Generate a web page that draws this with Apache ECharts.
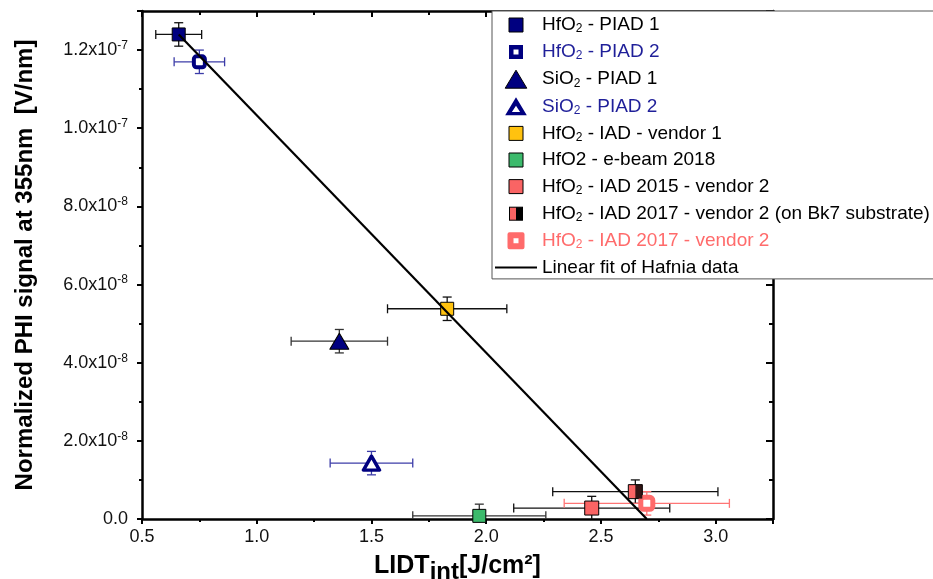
<!DOCTYPE html>
<html><head><meta charset="utf-8">
<script src="https://cdn.jsdelivr.net/npm/echarts@6/dist/echarts.min.js"></script>
<style>html,body{margin:0;padding:0;background:#fff}#c{width:933px;height:579px}</style>
</head><body><div id="c"></div>
<script>
// ---- data ----
const seriesNames = [
  'HfO_2 - PIAD 1',
  'HfO_2 - PIAD 2',
  'SiO_2 - PIAD 1',
  'SiO_2 - PIAD 2',
  'HfO_2 - IAD - vendor 1',
  'HfO2 - e-beam 2018',
  'HfO_2 - IAD 2015 - vendor 2',
  'HfO_2 - IAD 2017 - vendor 2 (on Bk7 substrate)',
  'HfO_2 - IAD 2017 - vendor 2'
];
const fitName = 'Linear fit of Hafnia data';
const xValues = [0.66, 0.75, 1.36, 1.50, 1.83, 1.97, 2.46, 2.65, 2.70];
const yValues = [1.24e-7, 1.17e-7, 4.55e-8, 1.43e-8, 5.38e-8, 0.8e-9, 2.8e-9, 7.0e-9, 4.0e-9];
const xErrors = [0.10, 0.11, 0.21, 0.18, 0.26, 0.29, 0.34, 0.36, 0.36];
const yErrors = [3e-9, 3e-9, 3e-9, 3e-9, 3e-9, 3e-9, 3e-9, 3e-9, 3e-9];
const fitX = [0.66, 2.70];
const fitY = [1.24e-7, 0];

// ---- styles ----
const FONT = "'Liberation Sans', Arial, sans-serif";
const navy = '#000080';
const salmon = '#fa6464';
const pink = '#ff6b6b';
const styles = [
  {symbol: 'rect', size: 13, color: navy, border: '#000', bw: 1, err: '#111', text: '#000'},
  {symbol: 'roundRect', size: 11, color: '#fff', border: navy, bw: 4, err: '#3c3ca8', text: '#1f1f99'},
  {symbol: 'triangle', size: [19, 16], color: navy, border: '#000', bw: 1, err: '#333', text: '#000'},
  {symbol: 'triangle', size: [16, 14], color: '#fff', border: navy, bw: 3.5, err: '#3c3ca8', text: '#1f1f99'},
  {symbol: 'rect', size: 13, color: '#ffc20f', border: '#000', bw: 1, err: '#111', text: '#000'},
  {symbol: 'rect', size: 13, color: '#3cba6c', border: '#000', bw: 1, err: '#333', text: '#000'},
  {symbol: 'rect', size: 14, color: salmon, border: '#000', bw: 1, err: '#111', text: '#000'},
  {symbol: 'rect', size: 14, color: salmon, border: '#000', bw: 1, err: '#111', text: '#000'},
  {symbol: 'roundRect', size: 12, color: '#fff', border: pink, bw: 5, err: '#ff7575', text: pink}
];
const pad = 'M-2,-2M16,16';
const sq = 'path://' + pad + 'M0,0h14v14h-14z';
const bk7Svg = '<svg xmlns="http://www.w3.org/2000/svg" width="18" height="18"><rect x="2.5" y="2.5" width="6.5" height="13" fill="' + salmon + '"/><rect x="9" y="2.5" width="6.5" height="13" fill="#000"/><rect x="2.5" y="2.5" width="13" height="13" fill="none" stroke="#000" stroke-width="1"/></svg>';
const legendIcons = [
  {icon: sq, itemStyle: {color: navy, borderColor: '#000', borderWidth: 1}},
  {icon: 'path://' + pad + 'M0,0h14v14h-14z M4.5,4.5v5h5v-5z', itemStyle: {color: navy, borderWidth: 0}},
  {icon: 'path://M9,0L18,15H0Z', itemStyle: {color: navy, borderColor: '#000', borderWidth: 1}},
  {icon: 'path://M9,0L18,15H0Z M9,7L5.6,12.2H12.4Z', itemStyle: {color: navy, borderWidth: 0}},
  {icon: sq, itemStyle: {color: '#ffc20f', borderColor: '#000', borderWidth: 1}},
  {icon: sq, itemStyle: {color: '#3cba6c', borderColor: '#000', borderWidth: 1}},
  {icon: sq, itemStyle: {color: salmon, borderColor: '#000', borderWidth: 1}},
  {icon: 'image://data:image/svg+xml;charset=utf-8,' + encodeURIComponent(bk7Svg), itemStyle: {}},
  {icon: 'path://M-0.5,-0.5M17.5,17.5M2,0h13a2,2 0 0 1 2,2v13a2,2 0 0 1 -2,2h-13a2,2 0 0 1 -2,-2v-13a2,2 0 0 1 2,-2z M6,6v5h5v-5z', itemStyle: {color: pink, borderWidth: 0}}
];

function legendFmt(name) {
  const p = name.split('_2');
  if (p.length === 1) return '{t|' + name + '}';
  return '{t|' + p[0] + '}{s|2}{t|' + p[1] + '}';
}

const series = [];
// error bars
const errData = xValues.map((x, i) => [x, yValues[i], xErrors[i], yErrors[i], i]);
series.push({
  type: 'custom', name: 'errors', clip: true, z: 2, silent: true,
  encode: {x: 0, y: 1},
  data: errData,
  renderItem: function (params, api) {
    const x = api.value(0), y = api.value(1), xe = api.value(2), ye = api.value(3), k = api.value(4);
    const l = api.coord([x - xe, y]), r = api.coord([x + xe, y]);
    const t = api.coord([x, y + ye]), b = api.coord([x, y - ye]);
    const st = {stroke: styles[k].err, lineWidth: 1.3};
    const cap = 4.5;
    const ln = (x1, y1, x2, y2) => ({type: 'line', shape: {x1, y1, x2, y2}, style: st});
    return {type: 'group', children: [
      ln(l[0], l[1], r[0], r[1]),
      ln(l[0], l[1] - cap, l[0], l[1] + cap),
      ln(r[0], r[1] - cap, r[0], r[1] + cap),
      ln(t[0], t[1], b[0], b[1]),
      ln(t[0] - cap, t[1], t[0] + cap, t[1]),
      ln(b[0] - cap, b[1], b[0] + cap, b[1])
    ]};
  }
});
seriesNames.forEach((name, i) => {
  const s = styles[i];
  series.push({
    type: 'scatter', name: name, z: 3,
    symbol: s.symbol, symbolSize: s.size,
    itemStyle: {color: s.color, borderColor: s.border, borderWidth: s.bw, borderJoin: 'round', opacity: 1},
    data: [[xValues[i], yValues[i]]]
  });
});
// black right half of the Bk7 marker
series.push({
  type: 'scatter', name: 'bk7-half', z: 4,
  symbol: 'rect', symbolSize: [7, 14], symbolOffset: [3.5, 0],
  itemStyle: {color: '#000'},
  data: [[xValues[7], yValues[7]]]
});
series.push({
  type: 'line', name: fitName, z: 5, symbol: 'none', showSymbol: false,
  itemStyle: {color: '#000'},
  lineStyle: {color: '#000', width: 2.2},
  data: fitX.map((x, i) => [x, fitY[i]])
});

const legendData = seriesNames.map((n, i) => Object.assign({name: n, textStyle: {color: styles[i].text}}, legendIcons[i]));
legendData.push({name: fitName, textStyle: {color: '#000'},
  icon: 'path://M0,-8M42,10M0,0h42v2h-42z', itemStyle: {color: '#000', borderWidth: 0}});

function yFmt(v) {
  if (v === 0) return '{m|0.0}';
  const e = Math.floor(Math.log10(v) + 1e-9);
  const m = (v / Math.pow(10, e)).toFixed(1);
  return '{m|' + m + 'x10}{e|' + e + '}';
}

const axisLine = {show: true, onZero: false, lineStyle: {color: '#000', width: 2.5}};
const option = {
  animation: false,
  backgroundColor: '#fff',
  textStyle: {fontFamily: FONT},
  grid: {left: 142, right: 160, top: 11, bottom: 60, outerBoundsMode: 'none', containLabel: false},
  legend: {
    left: 492, top: 11, orient: 'vertical',
    padding: [4, 6, 2, 3],
    itemWidth: 42, itemHeight: 18, itemGap: 7.1,
    backgroundColor: '#fff', borderColor: '#555', borderWidth: 1,
    selectedMode: false, z: 10,
    formatter: legendFmt,
    textStyle: {
      fontFamily: FONT, fontSize: 19,
      rich: {
        t: {fontSize: 19, lineHeight: 20, fontFamily: FONT},
        s: {fontSize: 12, lineHeight: 10, padding: [8, 0, 0, 0], fontFamily: FONT}
      }
    },
    data: legendData
  },
  xAxis: [{
    type: 'value', position: 'bottom', min: 0.5, max: 3.25, interval: 0.5,
    axisLine: axisLine,
    axisTick: {show: true, inside: false, length: 5, lineStyle: {width: 2, color: '#000'}},
    minorTick: {show: true, splitNumber: 2, length: 3, lineStyle: {width: 2, color: '#000'}},
    splitLine: {show: false},
    axisLabel: {showMaxLabel: false, margin: 9, fontSize: 18, color: '#111', fontFamily: FONT,
      formatter: v => v.toFixed(1)},
    name: '{b|LIDT}{s|int}{b|[J/cm²]}', nameLocation: 'middle', nameGap: 33, nameMoveOverlap: false,
    nameTextStyle: {
      rich: {
        b: {fontSize: 25, fontWeight: 'bold', lineHeight: 28, fontFamily: FONT, color: '#000'},
        s: {fontSize: 24, fontWeight: 'bold', lineHeight: 24, padding: [12, 0, 0, 0], fontFamily: FONT, color: '#000'}
      }
    }
  }, {
    type: 'value', position: 'top', min: 0.5, max: 3.25, interval: 0.5,
    axisLine: axisLine,
    axisTick: {show: true, inside: true, length: 6, lineStyle: {width: 2, color: '#000'}},
    minorTick: {show: true, splitNumber: 2, length: 4, lineStyle: {width: 2, color: '#000'}},
    splitLine: {show: false}, axisLabel: {show: false}
  }],
  yAxis: [{
    type: 'value', position: 'left', min: 0, max: 1.3e-7, interval: 2e-8,
    axisLine: axisLine,
    axisTick: {show: true, inside: false, length: 5, lineStyle: {width: 2, color: '#000'}},
    minorTick: {show: true, splitNumber: 2, length: 3, lineStyle: {width: 2, color: '#000'}},
    splitLine: {show: false},
    axisLabel: {showMaxLabel: false, margin: 14, formatter: yFmt,
      rich: {
        m: {fontSize: 18, color: '#111', fontFamily: FONT},
        e: {fontSize: 12, color: '#111', padding: [0, 0, 9, 0], fontFamily: FONT}
      }
    },
    name: 'Normalized PHI signal at 355nm  [V/nm]', nameLocation: 'middle', nameGap: 105,
    nameTextStyle: {fontSize: 24, fontWeight: 'bold', color: '#000', fontFamily: FONT}
  }, {
    type: 'value', position: 'right', min: 0, max: 1.3e-7, interval: 2e-8,
    axisLine: axisLine,
    axisTick: {show: true, inside: true, length: 7, lineStyle: {width: 2, color: '#000'}},
    minorTick: {show: true, splitNumber: 2, length: 4, lineStyle: {width: 2, color: '#000'}},
    splitLine: {show: false}, axisLabel: {show: false}
  }],
  series: series
};
const chart = echarts.init(document.getElementById('c'), null, {renderer: 'canvas'});
chart.setOption(option);
</script>
</body></html>
